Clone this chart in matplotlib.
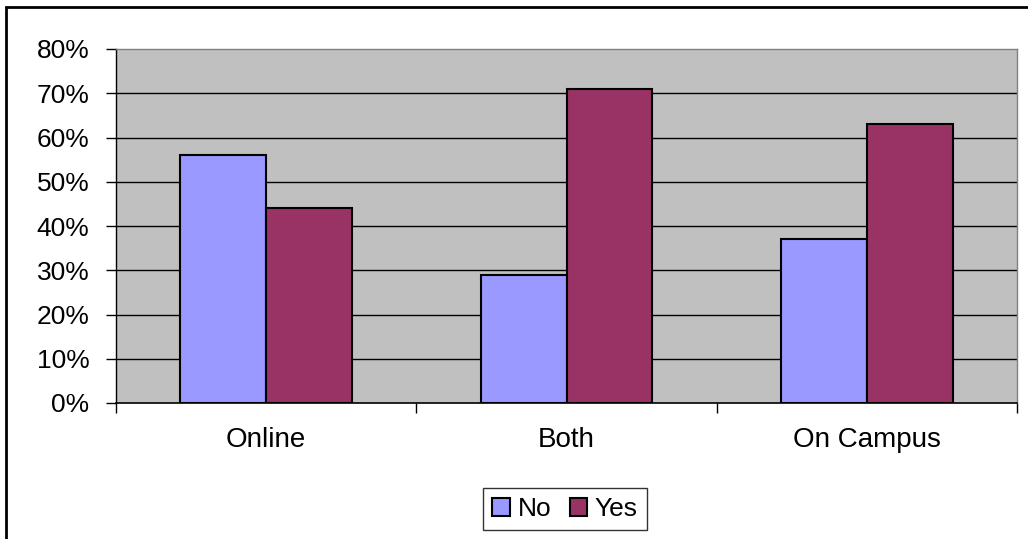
import numpy as np
import matplotlib.pyplot as plt
from matplotlib.patches import Rectangle

# data
categories = ["Online", "Both", "On Campus"]
no_vals = [56, 29, 37]
yes_vals = [44, 71, 63]
yticks = [0, 10, 20, 30, 40, 50, 60, 70, 80]

plt.rcParams['font.family'] = ['Liberation Sans', 'DejaVu Sans']

fig = plt.figure(figsize=(10.28, 5.39), dpi=100)
ax = fig.add_axes([116 / 1028, 1 - 403 / 539, 901 / 1028, 354 / 539])
ax.set_facecolor('#C0C0C0')

# outer chart border (only left/top visible in the crop)
fig.patches.append(Rectangle((6 / 1028, -0.1), 1.2, (532 / 539) + 0.1,
                             transform=fig.transFigure, fill=False,
                             edgecolor='black', linewidth=2, zorder=0))

x = np.arange(len(categories))
w = 0.286
ax.bar(x - w / 2, no_vals, w, color='#9999FF', edgecolor='black', linewidth=1.5,
       label='No', zorder=3)
ax.bar(x + w / 2, yes_vals, w, color='#993366', edgecolor='black', linewidth=1.5,
       label='Yes', zorder=3)

ax.set_xlim(-0.5, len(categories) - 0.5)
ax.set_ylim(0, 80)
ax.set_yticks(yticks)
ax.set_yticklabels([f"{v}%" for v in yticks], fontsize=19)
for v in yticks[1:-1]:
    ax.axhline(v, color='black', linewidth=1, zorder=1)

# category labels centered, tick marks at category boundaries
ax.set_xticks(x)
ax.set_xticklabels(categories, fontsize=20)
ax.tick_params(axis='x', length=0, pad=17)
ax.set_xticks(np.arange(-0.5, len(categories)), minor=True)
ax.tick_params(axis='x', which='minor', length=7, width=1, color='black', direction='out')
ax.tick_params(axis='y', length=7, width=1, color='black', direction='out', pad=12)

for s in ['top', 'right']:
    ax.spines[s].set_color('#808080')
    ax.spines[s].set_linewidth(1)
ax.spines['left'].set_color('black')
ax.spines['bottom'].set_color('black')
ax.spines['left'].set_linewidth(1)
ax.spines['bottom'].set_linewidth(1.2)

leg = fig.legend(loc='center', bbox_to_anchor=(565 / 1028, 1 - 509 / 539), ncol=2,
                 fontsize=19, frameon=True, fancybox=False, edgecolor='black',
                 handlelength=0.65, handleheight=0.65, handletextpad=0.3,
                 columnspacing=0.7, borderpad=0.35)
leg.get_frame().set_linewidth(1)

fig.savefig("out.png", dpi=100, facecolor='white')
